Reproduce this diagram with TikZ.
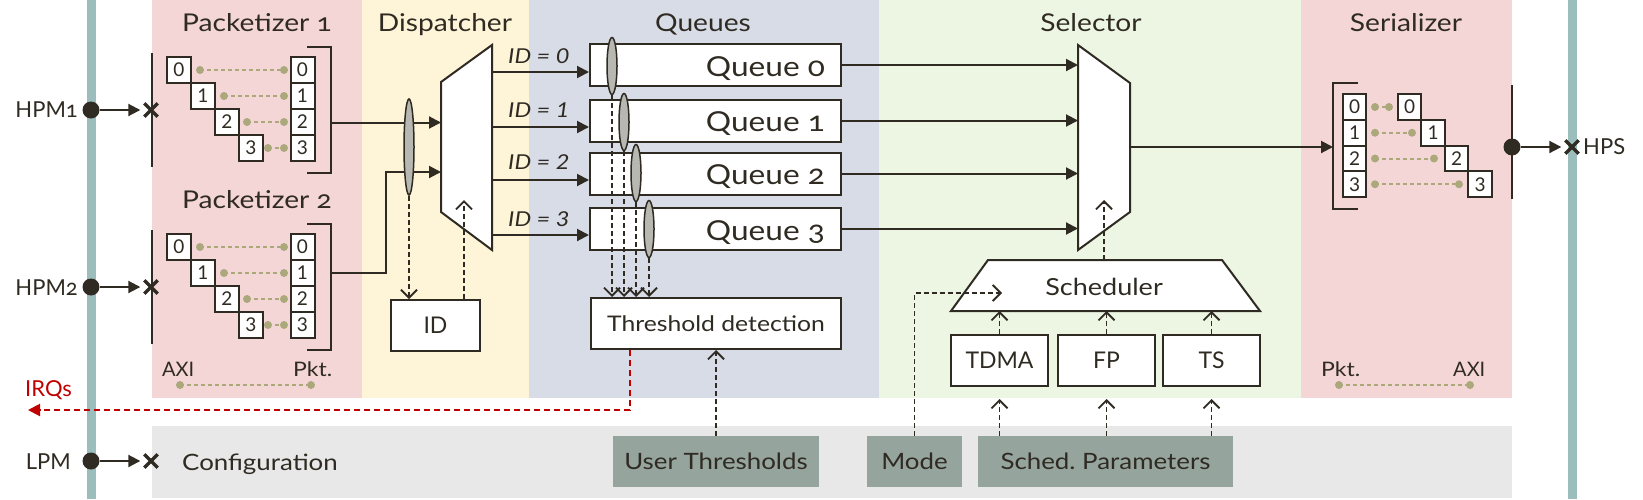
\documentclass[tikz,border=0pt]{standalone}
\usepackage{fontspec}
\setmainfont{Lato}[FakeStretch=1.15]
\newfontfamily\osf{Lato}[Numbers=OldStyle,FakeStretch=1.15]
\newfontfamily\plainf{Lato}
\newfontfamily\plainosf{Lato}[Numbers=OldStyle]
\usetikzlibrary{arrows.meta,shapes.geometric,shapes.misc}
\frenchspacing
\definecolor{dk}{RGB}{47,43,35}
\definecolor{tealc}{RGB}{155,190,189}
\definecolor{pinkc}{RGB}{244,214,215}
\definecolor{yelc}{RGB}{254,244,216}
\definecolor{bluc}{RGB}{215,220,231}
\definecolor{grnc}{RGB}{237,246,227}
\definecolor{grayc}{RGB}{232,232,232}
\definecolor{cfgc}{RGB}{149,164,156}
\definecolor{olivc}{RGB}{171,168,124}
\definecolor{ellc}{RGB}{183,184,177}
\definecolor{irqc}{RGB}{192,0,0}
\newcommand{\mypkt}[2]{%
 \begin{scope}[shift={(0,#2)}]
  \foreach \i/\xs in {0/200,1/224,2/247,3/268}{
    \node[pbox] (p#1l\i) at ({179+24*\i},{70+26*\i}) {\i};
    \node[pbox] (p#1r\i) at (302.5,{70+26*\i}) {\i};
    \node[odot] (p#1a\i) at (\xs,{70+26*\i}) {};
    \node[odot] (p#1b\i) at (284,{70+26*\i}) {};
    \draw[olvl] (p#1a\i.center) -- (p#1b\i.center);
  }
  \draw[ln] (152,53) -- (152,167);
  \draw[ln] (307,47) -- (331,47) -- (331,173) -- (307,173);
 \end{scope}}
\begin{document}
\begin{tikzpicture}[x=1pt,y=-1pt,
  ln/.style={draw=dk,line width=2pt},
  arr/.style={draw=dk,line width=2pt,-{Triangle[length=12pt,width=12pt]}},
  darr/.style={draw=dk,line width=1.8pt,dash pattern=on 5pt off 3pt,-{Straight Barb[length=8pt,width=16pt]}},
  irq/.style={draw=irqc,line width=2pt,dash pattern=on 6pt off 4pt,-{Triangle[length=12pt,width=12pt]}},
  box/.style={draw=dk,fill=white,line width=2pt,inner sep=0pt,text=dk,font=\fontsize{23.5}{23.5}\selectfont},
  capbox/.style={box,font=\plainf\fontsize{23}{23}\selectfont},
  pbox/.style={box,minimum width=24pt,minimum height=26pt,font=\plainf\fontsize{19}{19}\selectfont},
  cfg/.style={fill=cfgc,inner sep=0pt,text=dk,font=\fontsize{22.5}{22.5}\selectfont,minimum height=51pt},
  title/.style={text=dk,font=\osf\fontsize{24.5}{24.5}\selectfont,anchor=base,inner sep=0pt},
  lbl/.style={text=dk,font=\osf\fontsize{22.5}{22.5}\selectfont,inner sep=0pt},
  port/.style={text=dk,font=\plainosf\fontsize{22}{22}\selectfont,inner sep=0pt},
  leg/.style={text=dk,font=\fontsize{20}{20}\selectfont,inner sep=0pt,anchor=base west},
  ell/.style={ellipse,draw=dk,fill=ellc,line width=1.5pt,minimum width=10pt,inner sep=0pt},
  bigdot/.style={circle,fill=dk,minimum size=17pt,inner sep=0pt},
  odot/.style={circle,fill=olivc,minimum size=8pt,inner sep=0pt},
  olvl/.style={draw=olivc,line width=2pt,dash pattern=on 4pt off 3pt},
  xm/.style={cross out,draw=dk,line width=3.4pt,minimum size=10pt,inner sep=0pt},
  mux/.style={draw=dk,fill=white,line width=2pt,line join=miter},
]
\useasboundingbox (0,0) rectangle (1643,499);
% backgrounds
\fill[pinkc] (152,0) rectangle (362,398);
\fill[yelc] (362,0) rectangle (529,398);
\fill[bluc] (529,0) rectangle (879,398);
\fill[grnc] (879,0) rectangle (1301,398);
\fill[pinkc] (1301,0) rectangle (1512,398);
\fill[grayc] (152,426) rectangle (1512,498);
\fill[tealc] (87,0) rectangle (96,499);
\fill[tealc] (1568,0) rectangle (1577,499);
% titles
\node[title] (tP1) at (257,31.5) {Packetizer 1};
\node[title] (tP2) at (257,208.5) {Packetizer 2};
\node[title] (tD) at (445,31.5) {Dispatcher};
\node[title] (tQ) at (703,31.5) {Queues};
\node[title] (tS) at (1091,31.5) {Selector};
\node[title] (tR) at (1406,31.5) {Serializer};
% packetizers
\mypkt{1}{0}
\mypkt{2}{177}
% legend packetizer
\node[leg,font=\plainf\fontsize{20}{20}\selectfont] (ax1) at (162,376.5) {AXI};
\node[leg] (pk1) at (293,376.5) {Pkt.};
\node[odot] (la1) at (180,385) {};
\node[odot] (lb1) at (311,385) {};
\draw[olvl] (la1.center) -- (lb1.center);
% inputs
\node[bigdot] (hpm1) at (91,110) {};
\node[port,anchor=base east] (hpm1t) at (78,117.5) {HPM1};
\node[xm] (hpm1x) at (151,110) {};
\draw[arr,shorten >=4pt] (hpm1) -- (hpm1x);
\node[bigdot] (hpm2) at (91,287) {};
\node[port,anchor=base east] (hpm2t) at (78,295) {HPM2};
\node[xm] (hpm2x) at (151,287) {};
\draw[arr,shorten >=4pt] (hpm2) -- (hpm2x);
\node[bigdot] (lpm) at (91,461) {};
\node[port,anchor=base east] (lpmt) at (71,469) {LPM};
\node[xm] (lpmx) at (151,461) {};
\draw[arr,shorten >=4pt] (lpm) -- (lpmx);
\node[lbl,anchor=base west] (cfgl) at (182,470.5) {Configuration};
% dispatcher
\draw[mux] (441,82) -- (492,45) -- (492,250) -- (441,212) -- cycle;
\coordinate (din1) at (441,122.5);
\coordinate (din2) at (441,172);
\coordinate (p1out) at (331,122.5);
\coordinate (p2out) at (331,273);
\coordinate (p2bend) at (386,172);
\draw[arr] (p1out) -- (din1);
\draw[arr] (p2out) -| (p2bend) -- (din2);
\node[capbox,minimum width=89pt,minimum height=51pt] (idb) at (435.5,325.5) {ID};
\node[ell,minimum height=96pt] (el) at (409,147) {};
\draw[darr] (el.south) -- (el.south |- idb.north);
\coordinate (dctl) at (464,200);
\draw[darr] (dctl |- idb.north) -- (dctl);
% queues
\foreach \i/\y/\yb in {0/65/76,1/120.5/131.5,2/173.5/184,3/228.5/240}{
  \node[box,minimum width=251pt,minimum height=42pt] (q\i) at (715.5,\y) {};
  \node[lbl,font=\osf\fontsize{27.5}{27.5}\selectfont,anchor=base east] (qt\i) at (825,\yb) {Queue \i};
}
\foreach \i/\y/\yl in {0/72/63,1/127/117,2/180/169,3/235/226}{
  \coordinate (do\i) at (492,\y);
  \node[lbl,font=\itshape\fontsize{20.5}{20.5}\selectfont,anchor=base west] (idl\i) at (508,\yl) {ID = \i};
  \draw[arr] (do\i) -- (do\i -| q0.west);
}
\node[box,minimum width=250pt,minimum height=51pt,font=\fontsize{21.5}{21.5}\selectfont] (th) at (716,323.5) {Threshold detection};
\foreach \i/\x/\y in {0/612/66,1/624/122,2/636/173,3/649/229}{
  \node[ell,minimum height=57pt] (qe\i) at (\x,\y) {};
}
\foreach \i in {0,...,3}{
  \draw[darr] (qe\i.south) -- (qe\i.south |- th.north);
}
% IRQ
\coordinate (irqx) at (630,0);
\coordinate (irqe) at (28,410);
\draw[irq] (th.south -| irqx) |- (irqe);
\node[port,text=irqc,anchor=base west] (irql) at (25,396) {IRQs};
\node[cfg,minimum width=206pt] (ut) at (716,461.5) {User Thresholds};
\draw[darr] (ut.north) -- (th.south);
% selector
\draw[mux] (1078,45) -- (1130,83) -- (1130,212) -- (1078,250) -- cycle;
\coordinate (sL) at (1078,0);
\foreach \i in {0,...,3}{
  \draw[arr] (q\i.east) -- (q\i.east -| sL);
}
\coordinate (so) at (1130,147);
\coordinate (srin) at (1333,147);
\draw[arr] (so) -- (srin);
\draw[mux] (951,311) -- (988,260) -- (1222,260) -- (1260,311) -- cycle;
\node[lbl,font=\fontsize{23.5}{23.5}\selectfont] (sch) at (1104,287) {Scheduler};
\coordinate (sctl) at (1104,200);
\coordinate (schtop) at (1104,260);
\draw[darr] (schtop) -- (sctl);
\node[cfg,minimum width=95pt] (mode) at (914.5,461.5) {Mode};
\coordinate (modee) at (1002,293);
\draw[darr] (mode.north) |- (modee);
\node[capbox,minimum width=97pt,minimum height=51pt] (tdma) at (999.5,360.5) {TDMA};
\node[capbox,minimum width=97pt,minimum height=51pt] (fp) at (1106.5,360.5) {FP};
\node[capbox,minimum width=97pt,minimum height=51pt] (ts) at (1211.5,360.5) {TS};
\coordinate (schb) at (0,311);
\node[cfg,minimum width=255pt] (sp) at (1105.5,461.5) {Sched.\ Parameters};
\foreach \n in {tdma,fp,ts}{
  \draw[darr] (\n.north) -- (\n.north |- schb);
  \draw[darr,shorten >=12pt] (sp.north -| \n) -- (\n.south);
}
% serializer
\draw[ln] (1358,83) -- (1333,83) -- (1333,209) -- (1358,209);
\foreach \i/\xe in {0/1389,1/1412,2/1434,3/1459}{
  \node[pbox,minimum width=23.5pt,minimum height=25.75pt] (sl\i) at (1354.5,{107+25.75*\i}) {\i};
  \node[pbox,minimum width=23.5pt,minimum height=25.75pt] (sr\i) at ({1409.5+23.5*\i},{107+25.75*\i}) {\i};
  \node[odot] (sa\i) at (1375,{107+25.75*\i}) {};
  \node[odot] (sb\i) at (\xe,{107+25.75*\i}) {};
  \draw[olvl] (sa\i.center) -- (sb\i.center);
}
\draw[ln] (1512,85) -- (1512,199);
\node[bigdot] (hps) at (1512,147) {};
\node[xm] (hpsx) at (1572,147) {};
\draw[arr,shorten >=4pt] (hps) -- (hpsx);
\node[port,anchor=base west] (hpst) at (1583,154) {HPS};
\node[leg] (pk2) at (1321,376.5) {Pkt.};
\node[leg,font=\plainf\fontsize{20}{20}\selectfont] (ax2) at (1453,376.5) {AXI};
\node[odot] (la2) at (1339,385) {};
\node[odot] (lb2) at (1470,385) {};
\draw[olvl] (la2.center) -- (lb2.center);
\end{tikzpicture}
\end{document}
